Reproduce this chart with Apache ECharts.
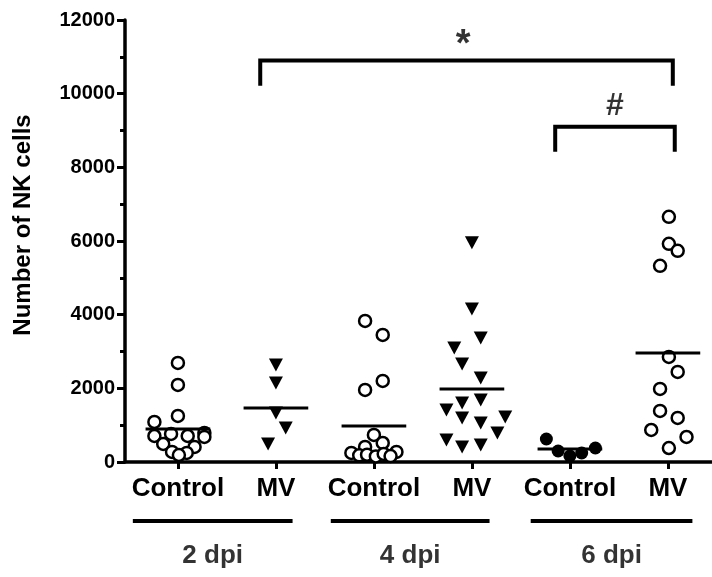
<!DOCTYPE html>
<html><head><meta charset="utf-8">
<script src="https://cdn.jsdelivr.net/npm/echarts@6/dist/echarts.min.js"></script>
<style>html,body{margin:0;padding:0;background:#fff}#c{width:712px;height:577px}</style>
</head><body><div id="c"></div><script>
// ---- data ----
const groupLabels = ['Control', 'MV', 'Control', 'MV', 'Control', 'MV'];
const dayLabels = ['2 dpi', '4 dpi', '6 dpi'];
const yTickValues = [0, 2000, 4000, 6000, 8000, 10000, 12000];
// each point: [horizontal jitter within its column, number of NK cells]
const ctrl2dpi = [[0,2690],[0,2092],[0,1250],[-0.24,1087],[-0.24,706],[-0.07,761],[0.10,706],[0.27,788],[0.27,680],[-0.15,489],[0.17,408],[-0.06,272],[0.09,245],[0.01,190]];
const mv2dpi = [[0,2636],[0,2146],[0,1331],[0.10,924],[-0.08,489]];
const ctrl4dpi = [[-0.09,3831],[0.09,3451],[0.09,2201],[-0.09,1956],[0,734],[0.09,516],[-0.09,408],[-0.23,245],[0.23,272],[-0.15,180],[-0.07,200],[0.02,150],[0.10,220],[0.17,160]];
const mv4dpi = [[0,5950],[0,4157],[0.09,3369],[-0.18,3097],[-0.10,2663],[0.09,2282],[-0.10,1603],[0.09,1685],[-0.26,1413],[-0.10,1196],[0.09,1060],[0.34,1223],[0.26,788],[-0.26,598],[-0.10,408],[0.09,462]];
const ctrl6dpi = [[-0.24,625],[-0.12,299],[0,163],[0.12,245],[0.26,380]];
const mv6dpi = [[0.01,6657],[0.01,5923],[0.10,5733],[-0.08,5325],[0.01,2853],[0.10,2445],[-0.08,1983],[-0.08,1386],[0.10,1196],[-0.17,869],[0.19,679],[0.01,380]];
const groupMeans = [897, 1467, 978, 1983, 353, 2962];
// significance brackets (x in column units, y in cell counts)
const bracketStar = [[0.84,10270],[0.84,10900],[5.05,10900],[5.05,10270]];
const bracketHash = [[3.85,8477],[3.85,9100],[5.07,9100],[5.07,8477]];
const starLabel = ['*', 2.91, 11300];
const hashLabel = ['#', 4.46, 9650];
// day group spans (column units)
const daySpans = [[-0.46,1.17],[1.56,3.18],[3.6,5.25]];

// ---- chart ----
const groups = [
  {pts: ctrl2dpi, sym: 'open'}, {pts: mv2dpi, sym: 'tri'},
  {pts: ctrl4dpi, sym: 'open'}, {pts: mv4dpi, sym: 'tri'},
  {pts: ctrl6dpi, sym: 'filled'}, {pts: mv6dpi, sym: 'open'}
];
const FONT = 'Liberation Sans, Arial, sans-serif';
const series = [];
groups.forEach((g, i) => {
  const s = {
    type: 'scatter', silent: true, z: 3,
    data: g.pts.map(p => [i + p[0], p[1]])
  };
  if (g.sym === 'open') {
    s.symbol = 'circle'; s.symbolSize = 12;
    s.itemStyle = {color: '#fff', borderColor: '#000', borderWidth: 2.5, opacity: 1};
  } else if (g.sym === 'filled') {
    s.symbol = 'circle'; s.symbolSize = 13;
    s.itemStyle = {color: '#000', opacity: 1};
  } else {
    s.symbol = 'triangle'; s.symbolRotate = 180; s.symbolSize = [14, 13];
    s.itemStyle = {color: '#000', opacity: 1};
  }
  series.push(s);
  series.push({
    type: 'line', silent: true, symbol: 'none', z: 4,
    data: [[i - 0.33, groupMeans[i]], [i + 0.33, groupMeans[i]]],
    lineStyle: {color: '#000', width: 3}
  });
});
[bracketStar, bracketHash].forEach(b => series.push({
  type: 'line', silent: true, symbol: 'none', clip: false,
  data: b, lineStyle: {color: '#000', width: 4, join: 'miter', cap: 'square'}
}));
[[starLabel, 38], [hashLabel, 32]].forEach(([l, fs]) => series.push({
  type: 'scatter', silent: true, symbolSize: 0, clip: false,
  data: [[l[1], l[2]]],
  label: {show: true, position: 'inside', formatter: l[0], color: '#000', fontSize: fs, fontWeight: 'bold', fontFamily: FONT}
}));
// day group underlines drawn in data space below the axis
daySpans.forEach(sp => series.push({
  type: 'line', silent: true, symbol: 'none', clip: false,
  data: [[sp[0], -1600], [sp[1], -1600]],
  lineStyle: {color: '#000', width: 4}
}));
dayLabels.forEach((d, i) => series.push({
  type: 'scatter', silent: true, symbolSize: 0, clip: false,
  data: [[(daySpans[i][0] + daySpans[i][1]) / 2, -2550]],
  label: {show: true, position: 'inside', formatter: d, color: '#000', fontSize: 26, fontWeight: 'bold', fontFamily: FONT}
}));

const chart = echarts.init(document.getElementById('c'), null, {renderer: 'canvas'});
chart.setOption({
  animation: false,
  backgroundColor: '#fff',
  grid: {left: 125, right: 0, top: 20, bottom: 115},
  xAxis: {
    type: 'value', min: -0.54, max: 5.45,
    splitLine: {show: false},
    axisLine: {show: true, onZero: false, lineStyle: {color: '#000', width: 3.5}},
    axisTick: {show: true, customValues: [0,1,2,3,4,5], length: 7, lineStyle: {color: '#000', width: 3}},
    axisLabel: {show: true, customValues: [0,1,2,3,4,5], formatter: v => groupLabels[Math.round(v)],
      margin: 14, color: '#000', fontSize: 26, fontWeight: 'bold', fontFamily: FONT}
  },
  yAxis: {
    type: 'value', min: 0, max: 12000, interval: 2000,
    name: 'Number of NK cells', nameLocation: 'middle', nameRotate: 90, nameGap: 90,
    nameTextStyle: {color: '#000', fontSize: 24, fontWeight: 'bold', fontFamily: FONT, padding: [0, 0, 0, 32]},
    splitLine: {show: false},
    axisLine: {show: true, onZero: false, lineStyle: {color: '#000', width: 3.5}},
    axisTick: {show: true, length: 8, lineStyle: {color: '#000', width: 3}},
    minorTick: {show: true, splitNumber: 2, length: 5, lineStyle: {color: '#000', width: 3}},
    axisLabel: {margin: 10, color: '#000', fontSize: 20, fontWeight: 'bold', fontFamily: FONT,
      customValues: yTickValues, formatter: v => String(v)}
  },
  series: series
});
</script></body></html>
